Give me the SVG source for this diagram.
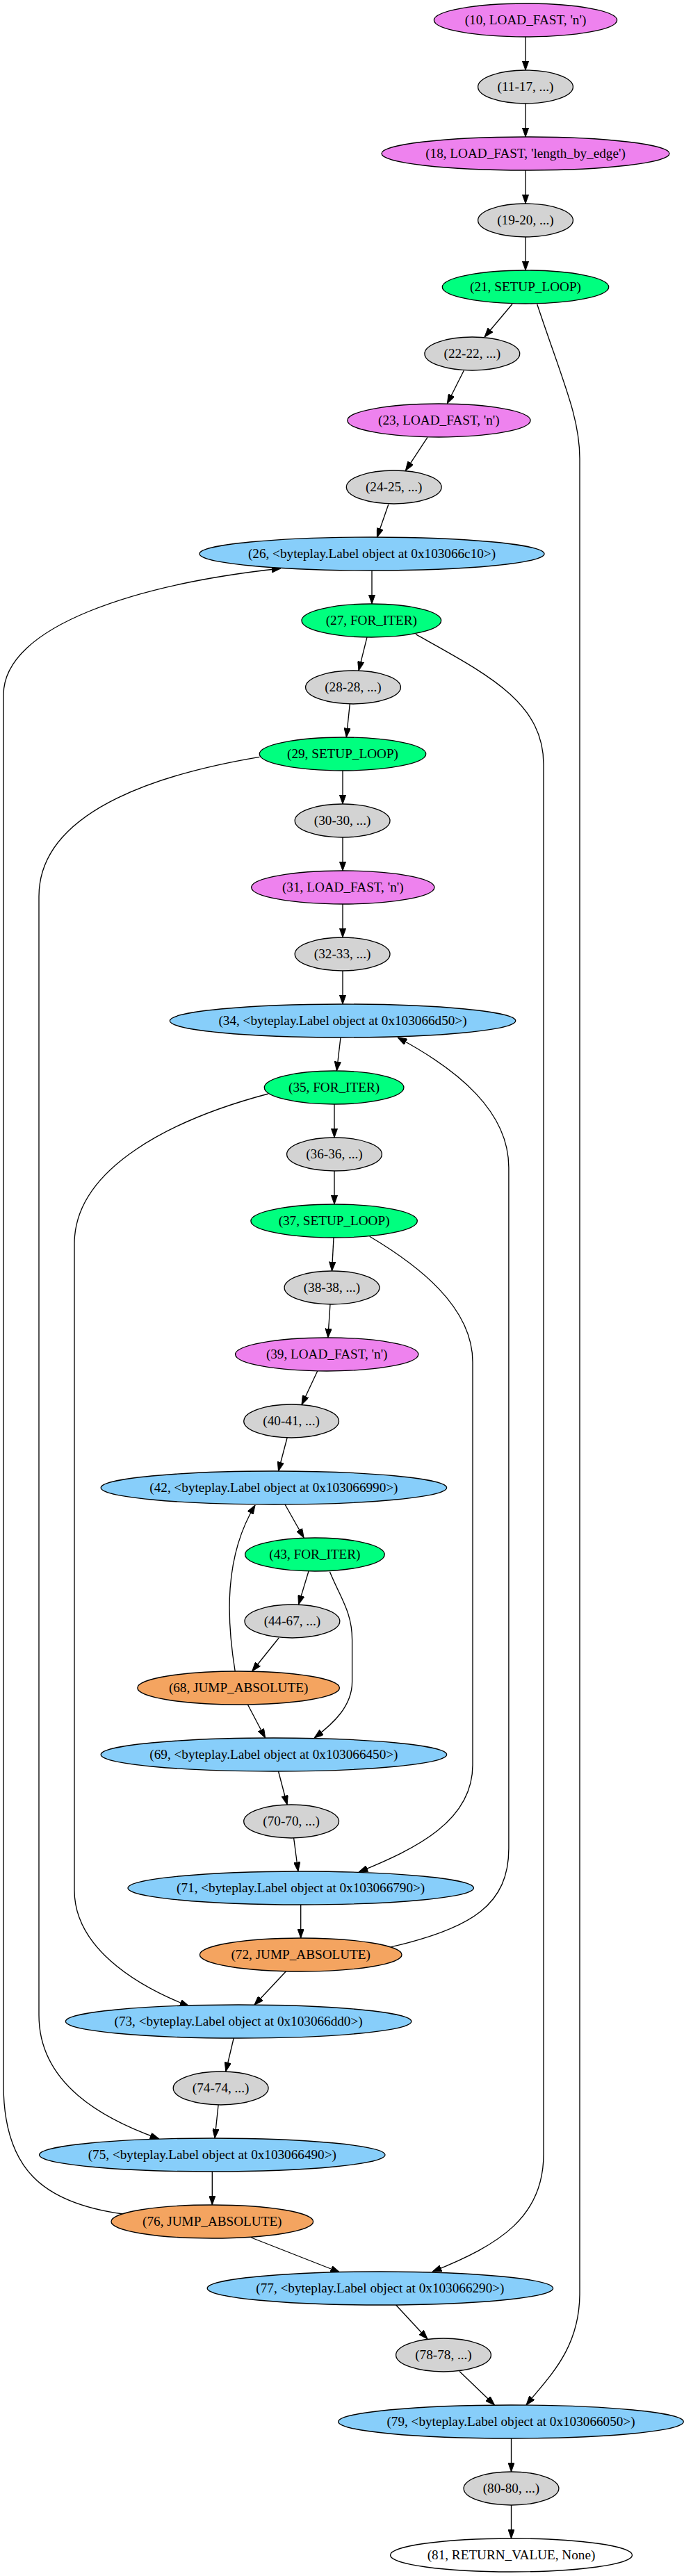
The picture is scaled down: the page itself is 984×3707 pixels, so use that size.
<svg xmlns="http://www.w3.org/2000/svg" width="984" height="3707" viewBox="0 0 984 3707">
<style>
.n ellipse{stroke:#000;stroke-width:1.33}
.n text{font-family:"Liberation Serif","Times New Roman",serif;font-size:19.2px;text-anchor:middle;fill:#000}
.v{fill:#ee82ee}.g{fill:#d3d3d3}.s{fill:#00ff7f}.b{fill:#87cefa}.o{fill:#f4a460}.w{fill:#ffffff}
#edges path{fill:none;stroke:#000;stroke-width:1.33;marker-end:url(#arr)}
</style>
<defs>
<marker id="arr" viewBox="0 0 13.3 9.4" refX="13.3" refY="4.7" markerWidth="13.3" markerHeight="9.4" markerUnits="userSpaceOnUse" orient="auto">
<path d="M0,0 L13.3,4.7 L0,9.4 z" fill="#000" stroke="#000" stroke-width="1"/>
</marker>
</defs>
<rect width="984" height="3707" fill="#fff"/>
<g id="edges">
<path d="M756,53 L756,101"/>
<path d="M756,149 L756,197"/>
<path d="M756,245 L756,293"/>
<path d="M756,341 L756,389"/>
<path d="M737,437.5 L697,485"/>
<path d="M772.7,437.7 C810,550 834,600 834,660 L834,3300 C834,3380 790,3420 757,3461"/>
<path d="M667.3,533.3 L643.4,580.7"/>
<path d="M615,629.3 L583.4,677.3"/>
<path d="M558.8,726 L542.4,773.3"/>
<path d="M535,821 L535,869"/>
<path d="M528,917 L516,965"/>
<path d="M598,912.7 C700,970 782,1010 782,1100 L782,3100 C782,3190 720,3230 622,3269"/>
<path d="M503.3,1013 L498.3,1061"/>
<path d="M493,1109 L493,1157"/>
<path d="M373.4,1089.3 C250,1110 56,1160 56,1290 L56,2900 C56,3000 150,3050 229,3078"/>
<path d="M493,1205 L493,1253"/>
<path d="M493,1301 L493,1349"/>
<path d="M493,1397 L493,1445"/>
<path d="M490,1493 L484.4,1541"/>
<path d="M481,1589 L481,1637"/>
<path d="M386,1574 C250,1610 107,1680 107,1790 L107,2720 C107,2800 190,2855 272,2887"/>
<path d="M481,1685 L481,1733"/>
<path d="M480,1781 L477.5,1829"/>
<path d="M531.7,1779.3 C600,1820 680,1880 680,1960 L680,2540 C680,2620 600,2660 516,2694"/>
<path d="M475,1877 L471.8,1925"/>
<path d="M456.7,1973 L434,2021.5"/>
<path d="M413.1,2069 L400.5,2117"/>
<path d="M410,2165 L437.1,2213"/>
<path d="M444,2261 L429.5,2309"/>
<path d="M474.4,2261.7 C490,2300 506.6,2320 506.6,2360 L506.6,2420 C506.6,2455 480,2480 452,2501"/>
<path d="M401.2,2357 L362.7,2405"/>
<path d="M338.2,2405 C326,2330 322,2240 367,2166"/>
<path d="M356.4,2453 L381.6,2501"/>
<path d="M400.5,2549 L413.1,2597"/>
<path d="M422.6,2645 L428.9,2693"/>
<path d="M432.7,2741 L432.7,2789"/>
<path d="M562.8,2801.7 C680,2775 731.9,2740 731.9,2660 L731.9,1680 C731.9,1600 660,1540 572,1493"/>
<path d="M411.3,2837 L365.8,2885.5"/>
<path d="M336.2,2933 L324.8,2981"/>
<path d="M314.1,3029 L309,3077"/>
<path d="M305.3,3125 L305.3,3173"/>
<path d="M176.6,3186 C60,3170 5,3120 5,3000 L5,1000 C5,900 200,840 404,818"/>
<path d="M361.4,3220 L488.8,3270"/>
<path d="M569.6,3317 L615,3366"/>
<path d="M661,3412.5 L711.5,3461"/>
<path d="M735.5,3509 L735.5,3557"/>
<path d="M735.5,3605 L735.5,3653"/>
</g>
<g id="n10" class="n"><ellipse class="v" cx="756" cy="29" rx="131.6" ry="24"/><text x="756" y="35">(10, LOAD_FAST, 'n')</text></g>
<g id="n11" class="n"><ellipse class="g" cx="756" cy="125" rx="68.4" ry="24"/><text x="756" y="131">(11-17, ...)</text></g>
<g id="n18" class="n"><ellipse class="v" cx="756" cy="221" rx="207" ry="24"/><text x="756" y="227">(18, LOAD_FAST, 'length_by_edge')</text></g>
<g id="n19" class="n"><ellipse class="g" cx="756" cy="317" rx="68.4" ry="24"/><text x="756" y="323">(19-20, ...)</text></g>
<g id="n21" class="n"><ellipse class="s" cx="756" cy="413" rx="119.7" ry="24"/><text x="756" y="419">(21, SETUP_LOOP)</text></g>
<g id="n22" class="n"><ellipse class="g" cx="679.3" cy="509" rx="68.4" ry="24"/><text x="679.3" y="515">(22-22, ...)</text></g>
<g id="n23" class="n"><ellipse class="v" cx="631.4" cy="605" rx="131.6" ry="24"/><text x="631.4" y="611">(23, LOAD_FAST, 'n')</text></g>
<g id="n24" class="n"><ellipse class="g" cx="566.7" cy="701" rx="68.4" ry="24"/><text x="566.7" y="707">(24-25, ...)</text></g>
<g id="n26" class="n"><ellipse class="b" cx="535" cy="797" rx="248" ry="24"/><text x="535" y="803">(26, &lt;byteplay.Label object at 0x103066c10&gt;)</text></g>
<g id="n27" class="n"><ellipse class="s" cx="534.3" cy="893" rx="100.3" ry="24"/><text x="534.3" y="899">(27, FOR_ITER)</text></g>
<g id="n28" class="n"><ellipse class="g" cx="508" cy="989" rx="68.4" ry="24"/><text x="508" y="995">(28-28, ...)</text></g>
<g id="n29" class="n"><ellipse class="s" cx="493" cy="1085" rx="119.7" ry="24"/><text x="493" y="1091">(29, SETUP_LOOP)</text></g>
<g id="n30" class="n"><ellipse class="g" cx="492.6" cy="1181" rx="68.4" ry="24"/><text x="492.6" y="1187">(30-30, ...)</text></g>
<g id="n31" class="n"><ellipse class="v" cx="493.3" cy="1277" rx="131.6" ry="24"/><text x="493.3" y="1283">(31, LOAD_FAST, 'n')</text></g>
<g id="n32" class="n"><ellipse class="g" cx="492.6" cy="1373" rx="68.4" ry="24"/><text x="492.6" y="1379">(32-33, ...)</text></g>
<g id="n34" class="n"><ellipse class="b" cx="493" cy="1469" rx="248.7" ry="24"/><text x="493" y="1475">(34, &lt;byteplay.Label object at 0x103066d50&gt;)</text></g>
<g id="n35" class="n"><ellipse class="s" cx="480.6" cy="1565" rx="100.3" ry="24"/><text x="480.6" y="1571">(35, FOR_ITER)</text></g>
<g id="n36" class="n"><ellipse class="g" cx="481" cy="1661" rx="68.4" ry="24"/><text x="481" y="1667">(36-36, ...)</text></g>
<g id="n37" class="n"><ellipse class="s" cx="480.6" cy="1757" rx="119.7" ry="24"/><text x="480.6" y="1763">(37, SETUP_LOOP)</text></g>
<g id="n38" class="n"><ellipse class="g" cx="477.5" cy="1853" rx="68.4" ry="24"/><text x="477.5" y="1859">(38-38, ...)</text></g>
<g id="n39" class="n"><ellipse class="v" cx="470.2" cy="1949" rx="131.6" ry="24"/><text x="470.2" y="1955">(39, LOAD_FAST, 'n')</text></g>
<g id="n40" class="n"><ellipse class="g" cx="419.1" cy="2045" rx="68.4" ry="24"/><text x="419.1" y="2051">(40-41, ...)</text></g>
<g id="n42" class="n"><ellipse class="b" cx="393.9" cy="2141" rx="248.7" ry="24"/><text x="393.9" y="2147">(42, &lt;byteplay.Label object at 0x103066990&gt;)</text></g>
<g id="n43" class="n"><ellipse class="s" cx="452.9" cy="2237" rx="100.3" ry="24"/><text x="452.9" y="2243">(43, FOR_ITER)</text></g>
<g id="n44" class="n"><ellipse class="g" cx="420.4" cy="2333" rx="68.4" ry="24"/><text x="420.4" y="2339">(44-67, ...)</text></g>
<g id="n68" class="n"><ellipse class="o" cx="343.1" cy="2429" rx="145.3" ry="24"/><text x="343.1" y="2435">(68, JUMP_ABSOLUTE)</text></g>
<g id="n69" class="n"><ellipse class="b" cx="393.9" cy="2525" rx="248.7" ry="24"/><text x="393.9" y="2531">(69, &lt;byteplay.Label object at 0x103066450&gt;)</text></g>
<g id="n70" class="n"><ellipse class="g" cx="419.1" cy="2621" rx="68.4" ry="24"/><text x="419.1" y="2627">(70-70, ...)</text></g>
<g id="n71" class="n"><ellipse class="b" cx="432.7" cy="2717" rx="248.7" ry="24"/><text x="432.7" y="2723">(71, &lt;byteplay.Label object at 0x103066790&gt;)</text></g>
<g id="n72" class="n"><ellipse class="o" cx="432.7" cy="2813" rx="145.3" ry="24"/><text x="432.7" y="2819">(72, JUMP_ABSOLUTE)</text></g>
<g id="n73" class="n"><ellipse class="b" cx="343.1" cy="2909" rx="248.7" ry="24"/><text x="343.1" y="2915">(73, &lt;byteplay.Label object at 0x103066dd0&gt;)</text></g>
<g id="n74" class="n"><ellipse class="g" cx="317.6" cy="3005" rx="68.4" ry="24"/><text x="317.6" y="3011">(74-74, ...)</text></g>
<g id="n75" class="n"><ellipse class="b" cx="305.3" cy="3101" rx="248.7" ry="24"/><text x="305.3" y="3107">(75, &lt;byteplay.Label object at 0x103066490&gt;)</text></g>
<g id="n76" class="n"><ellipse class="o" cx="305.3" cy="3197" rx="145.3" ry="24"/><text x="305.3" y="3203">(76, JUMP_ABSOLUTE)</text></g>
<g id="n77" class="n"><ellipse class="b" cx="546.9" cy="3293" rx="248.7" ry="24"/><text x="546.9" y="3299">(77, &lt;byteplay.Label object at 0x103066290&gt;)</text></g>
<g id="n78" class="n"><ellipse class="g" cx="638" cy="3389" rx="68.4" ry="24"/><text x="638" y="3395">(78-78, ...)</text></g>
<g id="n79" class="n"><ellipse class="b" cx="735" cy="3485" rx="248.3" ry="24"/><text x="735" y="3491">(79, &lt;byteplay.Label object at 0x103066050&gt;)</text></g>
<g id="n80" class="n"><ellipse class="g" cx="735.5" cy="3581" rx="68.4" ry="24"/><text x="735.5" y="3587">(80-80, ...)</text></g>
<g id="n81" class="n"><ellipse class="w" cx="735.5" cy="3677" rx="174" ry="24"/><text x="735.5" y="3683">(81, RETURN_VALUE, None)</text></g>
</svg>
